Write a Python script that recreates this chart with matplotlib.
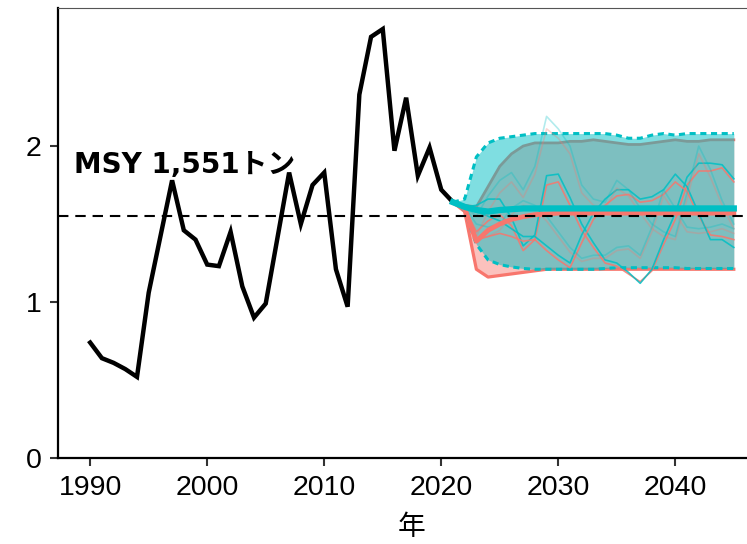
# Catch trajectory with future projections under two harvest scenarios
import matplotlib
matplotlib.use("Agg")
import matplotlib.pyplot as plt

plt.rcParams['font.family'] = ['Liberation Sans', 'Noto Sans CJK JP', 'DejaVu Sans']

# historical catch (thousand t)
years_hist = list(range(1990, 2023))
catch_hist = [0.74, 0.64, 0.61, 0.57, 0.52, 1.06, 1.42, 1.78, 1.46, 1.40,
              1.24, 1.23, 1.45, 1.10, 0.90, 0.99, 1.41, 1.83, 1.50, 1.75,
              1.83, 1.21, 0.97, 2.33, 2.70, 2.75, 1.97, 2.31, 1.81, 1.99,
              1.72, 1.64, 1.61]

# projections 2021-2045
years_proj = list(range(2021, 2046))
cyan_med = [1.64, 1.61, 1.59, 1.58, 1.59, 1.595, 1.60, 1.60, 1.60, 1.60,
            1.60, 1.60, 1.60, 1.60, 1.60, 1.60, 1.60, 1.60, 1.60, 1.60,
            1.60, 1.60, 1.60, 1.60, 1.60]
cyan_hi = [1.64, 1.66, 1.93, 2.02, 2.05, 2.06, 2.07, 2.08, 2.08, 2.08,
           2.08, 2.08, 2.08, 2.08, 2.07, 2.05, 2.05, 2.07, 2.08, 2.07,
           2.08, 2.08, 2.08, 2.08, 2.08]
cyan_lo = [1.64, 1.59, 1.37, 1.27, 1.24, 1.225, 1.215, 1.21, 1.21, 1.21,
           1.21, 1.21, 1.21, 1.215, 1.22, 1.22, 1.22, 1.22, 1.22, 1.22,
           1.215, 1.215, 1.215, 1.215, 1.215]
red_med = [1.64, 1.60, 1.39, 1.46, 1.50, 1.53, 1.547, 1.56, 1.565, 1.57,
           1.57, 1.57, 1.57, 1.57, 1.57, 1.57, 1.57, 1.57, 1.57, 1.57,
           1.57, 1.57, 1.57, 1.57, 1.57]
red_hi = [1.64, 1.62, 1.61, 1.74, 1.87, 1.95, 2.00, 2.02, 2.02, 2.02,
          2.03, 2.03, 2.04, 2.03, 2.02, 2.01, 2.01, 2.02, 2.03, 2.04,
          2.03, 2.03, 2.04, 2.04, 2.04]
red_lo = [1.64, 1.58, 1.21, 1.16, 1.17, 1.18, 1.19, 1.20, 1.21, 1.21,
          1.21, 1.21, 1.21, 1.21, 1.21, 1.21, 1.21, 1.21, 1.21, 1.21,
          1.21, 1.21, 1.21, 1.21, 1.21]

# example simulation runs (cyan / red pairs)
cyan_runs = [
    [1.64, 1.61, 1.62, 1.66, 1.66, 1.54, 1.36, 1.43, 1.81, 1.82, 1.67, 1.50, 1.38,
     1.27, 1.25, 1.19, 1.12, 1.21, 1.40, 1.57, 1.80, 1.89, 1.89, 1.88, 1.79],
    [1.64, 1.61, 1.58, 1.55, 1.52, 1.47, 1.42, 1.42, 1.36, 1.30, 1.25, 1.43, 1.57,
     1.66, 1.72, 1.72, 1.66, 1.675, 1.72, 1.82, 1.74, 1.57, 1.40, 1.40, 1.35],
    [1.64, 1.61, 1.55, 1.68, 1.78, 1.83, 1.72, 1.87, 2.19, 2.11, 2.00, 1.75, 1.66,
     1.64, 1.78, 1.72, 1.60, 1.50, 1.45, 1.42, 1.70, 2.00, 1.85, 1.65, 1.50],
    [1.64, 1.61, 1.50, 1.48, 1.50, 1.60, 1.65, 1.62, 1.55, 1.45, 1.35, 1.28, 1.30,
     1.30, 1.35, 1.36, 1.30, 1.48, 1.72, 1.60, 1.48, 1.47, 1.48, 1.50, 1.47],
]
red_runs = [
    [1.64, 1.60, 1.45, 1.52, 1.56, 1.49, 1.33, 1.40, 1.75, 1.77, 1.62, 1.46, 1.35,
     1.25, 1.23, 1.18, 1.13, 1.20, 1.37, 1.53, 1.75, 1.84, 1.84, 1.86, 1.77],
    [1.64, 1.60, 1.40, 1.42, 1.44, 1.42, 1.39, 1.40, 1.33, 1.27, 1.22, 1.38, 1.53,
     1.62, 1.68, 1.69, 1.64, 1.65, 1.69, 1.77, 1.71, 1.55, 1.43, 1.42, 1.40],
    [1.64, 1.60, 1.42, 1.58, 1.70, 1.77, 1.67, 1.82, 2.11, 2.05, 1.95, 1.70, 1.62,
     1.60, 1.73, 1.68, 1.57, 1.47, 1.42, 1.40, 1.66, 1.95, 1.80, 1.62, 1.47],
    [1.64, 1.60, 1.40, 1.42, 1.46, 1.56, 1.62, 1.59, 1.52, 1.42, 1.32, 1.26, 1.28,
     1.28, 1.33, 1.34, 1.28, 1.45, 1.68, 1.57, 1.45, 1.44, 1.45, 1.47, 1.44],
]
run_alpha = [0.85, 0.85, 0.3, 0.3]

msy = 1.551
msy_label = "MSY 1,551トン"

red = "#F8766D"
cyan = "#00BFC4"

fig = plt.figure(figsize=(7.47, 5.44), dpi=100)
ax = fig.add_axes([58 / 747, 86 / 544, 708 / 747, 450 / 544])

# red scenario band
ax.fill_between(years_proj, red_lo, red_hi, color=red, alpha=0.45, lw=0, zorder=2)
ax.plot(years_proj, red_hi, color=red, lw=2, zorder=2.1)
ax.plot(years_proj, red_lo, color=red, lw=2.3, zorder=2.1)

# cyan scenario band
ax.fill_between(years_proj, cyan_lo, cyan_hi, color=cyan, alpha=0.5, lw=0, zorder=3)
ax.plot(years_proj, cyan_hi, color=cyan, lw=2.2, ls=(0, (2.0, 1.5)), zorder=3.1)
ax.plot(years_proj, cyan_lo, color=cyan, lw=2.2, ls=(0, (2.0, 1.5)), zorder=3.1)

for r, c, a in zip(red_runs, cyan_runs, run_alpha):
    ax.plot(years_proj, r, color=red, lw=1.2, alpha=a, zorder=4)
    ax.plot(years_proj, c, color=cyan, lw=1.2, alpha=a, zorder=4)

ax.plot(years_hist, catch_hist, color="black", lw=3.2, zorder=5, solid_joinstyle="miter")
ax.plot(years_proj, red_med, color=red, lw=3.5, zorder=6)
ax.plot(years_proj, cyan_med, color=cyan, lw=4.5, zorder=6.5)

ax.axhline(msy, color="black", lw=1.5, ls=(0, (5, 3.3)), zorder=7)
ax.text(1988.6, 1.83, msy_label, fontsize=20, fontweight="bold",
        family=["DejaVu Sans", "Noto Sans CJK JP"], ha="left", va="baseline", zorder=8)

ax.set_xlim(1987.25, 2047.75)
ax.set_ylim(0, 2.885)
ax.set_xticks([1990, 2000, 2010, 2020, 2030, 2040])
ax.set_yticks([0, 1, 2])
ax.tick_params(direction="out", length=6, width=1.5, color="#333333",
               labelsize=20.5, pad=6)
ax.set_xlabel("年", fontsize=20, family=["Noto Sans CJK JP"], labelpad=8)

ax.spines["right"].set_visible(False)
ax.spines["left"].set_linewidth(1.6)
ax.spines["bottom"].set_linewidth(1.6)
ax.spines["top"].set_linewidth(0.8)
ax.spines["top"].set_color("#555555")

fig.savefig("out.png", dpi=100)
